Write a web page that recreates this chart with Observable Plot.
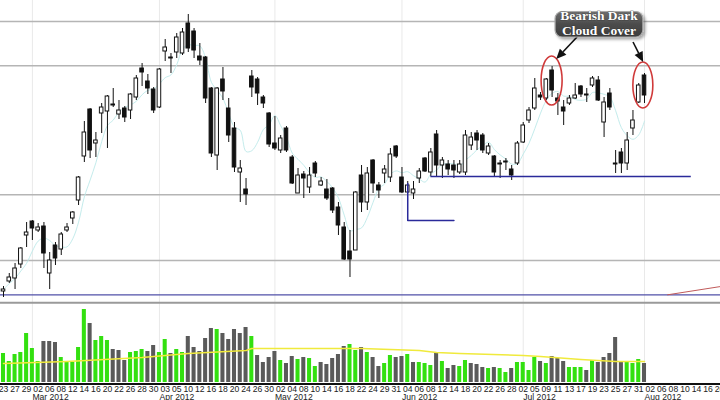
<!DOCTYPE html>
<html><head><meta charset="utf-8">
<script src="https://cdn.jsdelivr.net/npm/d3@7"></script>
<script src="https://cdn.jsdelivr.net/npm/@observablehq/plot@0.6"></script>
<style>
body{margin:0;background:#fff;}
#chart{width:720px;height:400px;overflow:hidden;position:relative;background:#fff;}
#chart svg{display:block;}
</style></head><body><div id="chart"></div>
<script>
// ---- data (trading-day index 0 = 23 Feb 2012) ----
const open = [20.9,21.9,22.2,23.6,26.5,27.9,27.0,27.4,22.7,25.5, 25.1,27.0,28.2,30.0,34.4,39.1,35.7,38.7,38.9,39.6, 38.6,39.2,39.0,40.3,43.2,41.9,41.1,39.3,44.9,44.3, 44.8,44.7,47.7,46.9,44.4,44.3,41.2,34.5,42.1,39.2, 37.2,32.8,31.1,42.4,42.1,40.3,38.7,35.7,35.0,37.2, 34.3,30.7,32.6,31.3,33.7,31.5,31.1,31.2,29.3,27.3, 24.9,25.0,32.5,29.8,34.0,31.5,32.7,32.3,35.4,32.3, 30.8,30.7,32.2,34.2,32.8,36.6,33.5,33.6,33.5,32.8, 32.8,35.5,36.7,36.5,34.7,34.4,33.7,33.8,33.1,33.7, 35.8,38.0,39.2,40.5,40.2,43.0,40.2,39.3,39.7,40.2, 41.4,40.6,41.5,42.0,37.8,40.7,33.7,34.8,33.7,37.2, 39.8,42.5];
const high = [21.4,22.7,23.7,25.3,27.8,28.0,27.7,27.8,24.8,25.8, 26.8,27.7,28.9,32.4,37.9,39.2,36.8,39.7,40.5,41.2, 40.0,39.4,40.7,42.5,43.7,42.6,41.3,43.2,46.1,44.7, 46.7,47.2,48.6,47.2,45.7,44.4,41.3,41.3,43.3,40.2, 37.8,34.0,32.2,43.0,42.3,40.5,38.8,38.4,36.5,37.4, 34.5,33.2,32.9,33.3,33.9,32.3,32.1,31.3,29.8,27.8, 27.0,30.9,33.5,33.3,34.1,31.8,33.5,35.2,35.5,33.3, 31.9,31.9,33.2,34.3,35.2,37.0,34.3,34.0,34.0,34.0, 37.0,36.8,37.0,36.7,35.7,34.5,34.0,34.2,33.5,35.9, 37.8,39.3,42.2,40.8,42.2,43.4,40.7,40.0,40.5,41.7, 41.5,41.2,42.4,42.4,40.3,41.2,35.0,35.2,36.8,39.0, 41.7,42.7];
const low = [20.3,21.7,21.1,23.2,25.3,26.0,26.8,23.2,21.1,23.5, 24.5,26.8,27.6,29.5,33.8,34.2,34.3,36.7,35.2,39.3, 38.1,37.8,38.1,40.0,41.4,40.6,38.7,39.2,43.9,42.7, 44.2,44.5,44.8,44.2,43.5,39.7,34.3,33.0,40.0,35.8, 32.8,29.8,29.5,40.3,39.5,39.2,35.3,35.0,34.7,34.8, 31.6,30.7,30.2,30.7,32.3,31.4,30.0,28.7,26.5,24.0, 22.3,25.0,28.8,29.0,30.7,30.2,31.7,31.8,34.2,30.7, 30.7,30.1,31.7,32.8,32.4,32.3,32.2,32.5,32.2,32.6, 32.5,35.0,35.0,34.7,34.5,32.3,32.2,33.0,32.0,33.5, 35.7,37.7,39.0,40.0,40.0,40.3,38.5,37.5,39.5,40.1, 40.3,39.8,41.3,39.9,36.3,39.0,32.7,32.7,33.0,36.5, 39.7,39.7];
const close = [21.1,22.3,23.2,25.2,26.8,27.2,27.3,24.7,24.0,24.2, 26.6,27.3,28.8,32.3,36.8,35.0,36.0,39.3,40.4,39.5, 39.0,38.3,40.6,42.2,42.8,41.2,39.0,43.1,45.3,44.2, 46.3,46.8,45.2,45.0,44.0,40.2,34.7,41.2,40.9,36.5, 33.3,33.2,30.6,41.3,40.7,39.7,35.6,35.2,36.2,35.0, 31.7,32.5,32.2,32.5,32.7,31.9,30.2,29.0,27.5,24.1, 24.1,30.8,29.8,32.7,31.7,31.0,33.1,34.6,34.4,30.8, 31.5,31.1,32.9,32.9,34.8,33.5,34.0,33.1,33.0,33.6, 36.5,36.3,36.0,35.0,35.4,32.8,33.6,33.9,32.5,35.7, 37.5,39.0,41.2,40.3,42.1,41.0,39.9,38.9,40.2,40.5, 40.6,40.5,42.2,40.0,39.8,39.3,33.6,33.7,36.0,38.0, 41.5,40.5];
const volume = [2.9,2.1,2.8,3.0,4.9,3.4,2.1,4.1,4.1,4.0, 2.5,2.1,2.0,3.5,7.3,5.9,4.2,4.6,4.2,3.3, 3.2,2.2,3.0,3.1,3.3,3.1,3.7,3.0,4.3,2.9, 3.3,3.0,4.6,3.5,3.1,4.4,5.4,5.3,4.9,4.3, 5.3,4.9,5.5,4.6,2.7,2.0,2.5,3.1,2.2,1.9, 2.6,2.3,2.5,2.4,1.6,2.0,1.8,2.4,2.8,3.6, 3.8,3.2,3.5,3.0,2.5,1.6,1.9,2.7,2.5,2.6, 2.8,2.0,2.0,1.9,1.7,3.0,2.1,1.4,1.7,1.6, 2.2,1.9,1.8,1.5,1.4,1.5,1.4,1.0,1.4,2.0, 2.0,1.2,2.5,2.1,1.9,2.6,2.4,2.1,1.5,1.5, 1.5,1.2,2.2,2.0,2.5,2.9,4.5,2.0,2.0,1.9, 2.3,1.9];
const volumeUp = "gggggggkkk" + "gggggkgggk" + "kkgggkkggk" + "ggkkkkkgkk" + "kkkgkkkkgk" + "kgkggkkkkk" + "ggkgkkggkk" + "gkgggkgkkg" + "gkkkgkggkg" + "gggkgkkkgg" + "gkgkkkkkgg" + "gk";
const volumeAvgIdx = [0, 11, 24, 32, 42, 43, 55, 62, 72, 75, 79, 90, 93, 100, 106, 111];
const volumeAvg = [1.9, 2.1, 2.5, 2.9, 3.2, 3.4, 3.4, 3.4, 3.2, 3.0, 2.9, 2.7, 2.6, 2.3, 2.1, 2.1];
const tickLabels = ["23","27","29","02","06","08","12","14","16","20","22","26","28","30","03","05","10","12","16","18","20","24","26","30","02","04","08","10","14","16","18","22","24","29","31","04","06","08","12","14","18","20","22","26","28","02","05","09","11","13","17","19","23","25","27","31","02","06","08","10","14","16","20"];
const monthLabels = ["Mar 2012","Apr 2012","May 2012","Jun 2012","Jul 2012","Aug 2012"];
const monthStart = [5, 27, 47, 69, 90, 111];
const levelLines = [47.9, 43.47, 30.57, 24.0];
const baseLine = 20.57;
const supportLine = {y: 32.4, x1: 74, x2: 119.1};
const bracket = [[70, 31.7], [70, 28.0], [78, 28.0]];
const trendLine = [[115.0, 20.57], [124.2, 21.4]];
// annotation (data units)
const noteText = ["Bearish Dark", "Cloud Cover"];
const noteBox = {x1: 95.6, x2: 110.8, y1: 48.85, y2: 46.3};
const noteArrows = [{x1: 99.4, y1: 46.3, x2: 95.8, y2: 44.1}, {x1: 109.1, y1: 45.8, x2: 110.85, y2: 43.8}];
const noteRings = [{x: 95.0, y: 41.95, rx: 1.82, ry: 2.45}, {x: 110.8, y: 41.5, rx: 1.73, ry: 2.3}];

// ---- build ----
const candles = close.map((c, i) => ({i, o: open[i], h: high[i], l: low[i], c}));
const vols = volume.map((v, i) => ({i, v, up: volumeUp[i] === "g"}));
const avg = volumeAvgIdx.map((i, k) => ({i, v: volumeAvg[k]}));
const ticks = tickLabels.map((t, k) => ({i: k * 2, t}));
const months = monthLabels.map((t, k) => ({i: monthStart[k], t}));
const xDomain = [-0.52, 124.16];
const hw = 0.31;

const priceChart = Plot.plot({
  width: 720, height: 300, margin: 0,
  x: {domain: xDomain, axis: null},
  y: {domain: [20, 50], axis: null},
  marks: [
    Plot.ruleX(monthStart, {stroke: "#e9e9e9"}),
    Plot.ruleY(levelLines, {stroke: "#b5b5b5", strokeWidth: 1.5}),
    Plot.ruleY([baseLine], {stroke: "#5050a8", strokeWidth: 1.3}),
    Plot.lineY(candles, Plot.windowY({k: 5, anchor: "end"}, {x: "i", y: "c", stroke: "#c4ecec", strokeWidth: 1, curve: "catmull-rom"})),
    Plot.ruleX(candles, {x: "i", y1: "l", y2: "h", stroke: "#111", strokeWidth: 1}),
    Plot.rect(candles.filter(d => d.c >= d.o), {x1: d => d.i - hw, x2: d => d.i + hw, y1: "o", y2: "c", fill: "#fff", stroke: "#111", strokeWidth: 1}),
    Plot.rect(candles.filter(d => d.c < d.o), {x1: d => d.i - hw, x2: d => d.i + hw, y1: "o", y2: "c", fill: "#111", stroke: "#111", strokeWidth: 1}),
    Plot.ruleY([supportLine], {y: "y", x1: "x1", x2: "x2", stroke: "#2a2a9a", strokeWidth: 1.5}),
    Plot.line(bracket, {stroke: "#2a2a9a", strokeWidth: 1.5}),
    Plot.line(trendLine, {stroke: "#c05a5a", strokeWidth: 1})
  ]
});

const volChart = Plot.plot({
  width: 720, height: 100, marginTop: 0, marginBottom: 18, marginLeft: 0, marginRight: 0,
  x: {domain: xDomain, axis: null},
  y: {domain: [0, 8.2], axis: null},
  marks: [
    Plot.ruleX(monthStart, {stroke: "#e9e9e9", y1: 0, y2: 8.2}),
    Plot.ruleY([7.97], {stroke: "#9a9a9a", strokeWidth: 2}),
    Plot.rect(vols, {x1: d => d.i - 0.35, x2: d => d.i + 0.35, y1: 0, y2: "v", fill: d => d.up ? "#33e010" : "#5a5a5a"}),
    Plot.line(avg, {x: "i", y: "v", stroke: "#f0ea3c", strokeWidth: 1.5}),
    Plot.ruleY([-0.15], {stroke: "#111", strokeWidth: 2}),
    Plot.text(ticks, {x: "i", y: 0, text: "t", dy: 9, lineAnchor: "bottom", fontSize: 8.6, fill: "#222", fontFamily: "Liberation Sans, Arial, sans-serif"}),
    Plot.text(months, {x: "i", y: 0, text: "t", dy: 17.6, lineAnchor: "bottom", textAnchor: "start", fontSize: 8.6, fill: "#222", fontFamily: "Liberation Sans, Arial, sans-serif"})
  ]
});

const root = document.getElementById("chart");
root.appendChild(priceChart);
root.appendChild(volChart);

// annotation drawn with the plot's own scales
const sx = priceChart.scale("x"), sy = priceChart.scale("y");
const X = v => sx.apply(v), Y = v => sy.apply(v);
const svg = d3.select(priceChart);
const defs = svg.append("defs");
const gr = defs.append("linearGradient").attr("id", "noteFill").attr("x1", 0).attr("y1", 0).attr("x2", 0).attr("y2", 1);
gr.append("stop").attr("offset", 0).attr("stop-color", "#6e6e6e");
gr.append("stop").attr("offset", 0.5).attr("stop-color", "#4c4c4c");
gr.append("stop").attr("offset", 1).attr("stop-color", "#3c3c3c");
const flt = defs.append("filter").attr("id", "noteShadow").attr("x", "-20%").attr("y", "-20%").attr("width", "150%").attr("height", "160%");
flt.append("feDropShadow").attr("dx", 2).attr("dy", 2).attr("stdDeviation", 1.5).attr("flood-color", "#000").attr("flood-opacity", 0.35);

const ann = svg.append("g");
noteRings.forEach(r => {
  ann.append("ellipse").attr("cx", X(r.x)).attr("cy", Y(r.y))
    .attr("rx", X(r.x + r.rx) - X(r.x)).attr("ry", Y(r.y) - Y(r.y + r.ry))
    .attr("fill", "none").attr("stroke", "#d03a3a").attr("stroke-width", 1.6);
});
noteArrows.forEach(a => {
  const x1 = X(a.x1), y1 = Y(a.y1), x2 = X(a.x2), y2 = Y(a.y2);
  const ang = Math.atan2(y2 - y1, x2 - x1), L = 10, W = 4.5;
  const bx = x2 - L * Math.cos(ang), by = y2 - L * Math.sin(ang);
  ann.append("line").attr("x1", x1).attr("y1", y1).attr("x2", bx).attr("y2", by).attr("stroke", "#111").attr("stroke-width", 1.6);
  ann.append("path").attr("d", `M${x2},${y2}L${bx - W * Math.sin(ang)},${by + W * Math.cos(ang)}L${bx + W * Math.sin(ang)},${by - W * Math.cos(ang)}Z`).attr("fill", "#111");
});
ann.append("rect").attr("x", X(noteBox.x1)).attr("y", Y(noteBox.y1))
  .attr("width", X(noteBox.x2) - X(noteBox.x1)).attr("height", Y(noteBox.y2) - Y(noteBox.y1))
  .attr("rx", 7).attr("fill", "url(#noteFill)").attr("stroke", "#a8a8a8").attr("stroke-width", 1.2)
  .attr("filter", "url(#noteShadow)");
const cx = (X(noteBox.x1) + X(noteBox.x2)) / 2;
noteText.forEach((t, k) => {
  ann.append("text").attr("x", cx).attr("y", Y(noteBox.y1) + 8 + k * 15)
    .attr("text-anchor", "middle").attr("fill", "#fff").attr("stroke", "#2a2a2a").attr("stroke-width", 0.6)
    .attr("paint-order", "stroke").attr("font-family", "Liberation Serif, DejaVu Serif, serif")
    .attr("font-weight", "bold").attr("font-size", 13.5).text(t);
});
</script></body></html>
